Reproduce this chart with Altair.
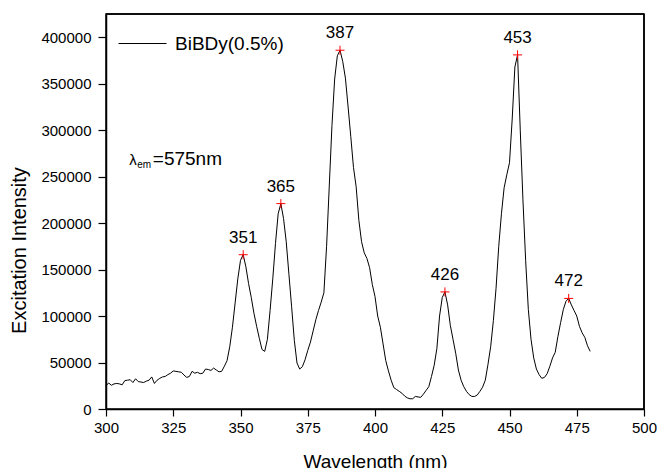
import altair as alt
import pandas as pd

# ---- data ----
wavelength = list(range(300, 481))
intensity = [
    25000, 28000, 25500, 27000, 27500, 27000, 26000, 30500, 31000, 31500,  # 300-309
    28500, 32500, 29500, 29000, 28500, 30000, 31000, 34500, 27500, 31000,  # 310-319
    33000, 34500, 35000, 37000, 38500, 41000, 40500, 40000, 39500, 36500,  # 320-329
    34000, 35000, 40500, 38500, 39500, 38000, 38500, 43000, 42500, 41500,  # 330-339
    44000, 42000, 40000, 40500, 46000, 52000, 67000, 88000, 114000, 140000,  # 340-349
    160000, 166000, 153000, 135000, 120000, 103000, 89000, 76000, 64000, 62000,  # 350-359
    75000, 106000, 140000, 178000, 210000, 221000, 205000, 180000, 145000, 110000,  # 360-369
    74000, 49500, 43000, 45500, 53000, 63000, 72000, 84000, 96000, 106000,  # 370-379
    115000, 125000, 175000, 240000, 305000, 355000, 380000, 386000, 374000, 356000,  # 380-389
    325000, 293000, 260000, 239000, 203000, 180000, 168000, 162000, 152000, 134000,  # 390-399
    121000, 100000, 88000, 70000, 52000, 41000, 31000, 23000, 21000, 19000,  # 400-409
    17000, 14000, 12000, 11000, 11000, 13500, 13000, 12500, 16000, 20000,  # 410-419
    24000, 35000, 47000, 65000, 100000, 120000, 126000, 112000, 90000, 75000,  # 420-429
    60000, 42000, 31000, 24000, 19000, 15500, 13500, 13500, 15000, 19000,  # 430-439
    23500, 31000, 48000, 67000, 95000, 130000, 175000, 210000, 238000, 252000,  # 440-449
    265000, 312000, 368000, 381000, 300000, 225000, 160000, 107000, 75000, 55000,  # 450-459
    43000, 37000, 33000, 34000, 38000, 46000, 55000, 61000, 78000, 93000,  # 460-469
    107000, 116000, 119000, 112000, 106000, 100000, 89000, 82000, 77000, 68000,  # 470-479
    62000,  # 480
]
series_name = "BiBDy(0.5%)"

peak_x = [351, 365, 387, 426, 453, 472]
peak_y = [166000, 221000, 386000, 126000, 381000, 119000]
peak_text = ["351", "365", "387", "426", "453", "472"]

x_domain = [300, 500]
y_domain = [0, 425000]
x_ticks = [300 + 12.5 * i for i in range(17)]
y_ticks = [25000 * i for i in range(17)]

FONT = "Liberation Sans"

df = pd.DataFrame({"wl": wavelength, "inten": intensity, "series": series_name})
pk = pd.DataFrame({"wl": peak_x, "inten": peak_y, "lab": peak_text})
ann_l = pd.DataFrame({"wl": [308.6], "inten": [262700], "t": ["λ"]})
ann_em = pd.DataFrame({"wl": [311.6], "inten": [259000], "t": ["em"]})
ann_eq = pd.DataFrame({"wl": [317.4], "inten": [262700], "t": ["=575nm"]})
# frame edges (top and right) given in data units of the axis domains
edges = pd.DataFrame({
    "x1": [x_domain[0], x_domain[1]],
    "x2": [x_domain[1], x_domain[1]],
    "y1": [y_domain[1], y_domain[0]],
    "y2": [y_domain[1], y_domain[1]],
})

xscale = alt.Scale(domain=x_domain, nice=False, zero=False)
yscale = alt.Scale(domain=y_domain, nice=False, zero=False)

x_axis = alt.Axis(
    orient="bottom",
    values=x_ticks,
    tickSize={"condition": {"test": "datum.value % 25 === 0", "value": 7}, "value": 4},
    labelExpr="datum.value % 25 === 0 ? datum.label : ''",
    labelOverlap=False,
    labelFlush=False,
    labelFontSize=15,
    labelPadding=4,
    title="Wavelength (nm)",
    titleFontSize=19,
    titleFontWeight="normal",
    titleX=269,
    titleY=58,
    titleBaseline="alphabetic",
    grid=False,
)
y_axis = alt.Axis(
    orient="left",
    values=y_ticks,
    format="d",
    tickSize={"condition": {"test": "datum.value % 50000 === 0", "value": 8}, "value": 5},
    labelExpr="datum.value % 50000 === 0 ? datum.label : ''",
    labelOverlap=False,
    labelFlush=False,
    labelFontSize=15,
    labelPadding=7,
    title="Excitation Intensity",
    titleFontSize=20,
    titleFontWeight="normal",
    titleX=-81,
    titleY=236,
    titleBaseline="alphabetic",
    grid=False,
)

line = alt.Chart(df).mark_line(strokeWidth=1, interpolate="linear").encode(
    x=alt.X("wl:Q", scale=xscale, axis=x_axis),
    y=alt.Y("inten:Q", scale=yscale, axis=y_axis),
    color=alt.Color(
        "series:N",
        scale=alt.Scale(range=["black"]),
        legend=alt.Legend(
            title=None,
            orient="none",
            legendX=12,
            legendY=5,
            symbolType="stroke",
            symbolSize=2304,
            symbolStrokeWidth=1,
            labelFontSize=19,
            labelFont=FONT,
            labelColor="black",
            labelOffset=8,
            padding=0,
        ),
    ),
)

frame = alt.Chart(edges).mark_rule(color="black", strokeWidth=1.5).encode(
    x=alt.X("x1:Q"), x2="x2:Q", y=alt.Y("y1:Q"), y2="y2:Q"
)

X_ = alt.X("wl:Q")
Y_ = alt.Y("inten:Q")

pts = alt.Chart(pk).mark_point(
    shape="M-1,0H1M0,-1V1", size=81, filled=False, color="red", strokeWidth=1, opacity=1
).encode(x=X_, y=Y_)

labels = alt.Chart(pk).mark_text(
    dy=-12, baseline="alphabetic", align="center", fontSize=17, font=FONT, color="black"
).encode(x=X_, y=Y_, text="lab:N")

t_l = alt.Chart(ann_l).mark_text(
    align="left", baseline="alphabetic", fontSize=15, font=FONT, color="black"
).encode(x=X_, y=Y_, text="t:N")
t_em = alt.Chart(ann_em).mark_text(
    align="left", baseline="alphabetic", fontSize=10, font=FONT, color="black"
).encode(x=X_, y=Y_, text="t:N")
t_eq = alt.Chart(ann_eq).mark_text(
    align="left", baseline="alphabetic", fontSize=19, font=FONT, color="black"
).encode(x=X_, y=Y_, text="t:N")

chart = alt.layer(line, frame, pts, labels, t_l, t_em, t_eq).properties(
    width=538,
    height=395,
    background="white",
    autosize=alt.AutoSizeParams(type="none"),
    padding={"left": 106, "top": 14, "right": 13, "bottom": 59},
).configure_view(
    stroke="black", strokeWidth=1.5
).configure_axis(
    labelFont=FONT, titleFont=FONT, labelColor="black", titleColor="black",
    tickColor="black", domainColor="black", domainWidth=1.5, tickWidth=1.2,
    titleFontWeight="normal",
)

chart.save("out.html", embed_options={"renderer": "svg", "actions": False})
